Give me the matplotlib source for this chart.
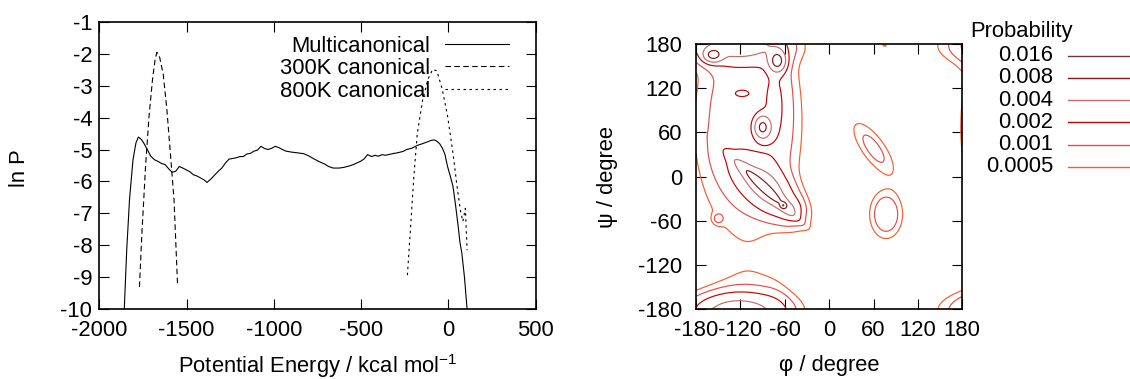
import numpy as np
import matplotlib
matplotlib.use('Agg')
import matplotlib.pyplot as plt
from matplotlib.lines import Line2D

plt.rcParams['font.family'] = ['Liberation Sans', 'DejaVu Sans']
plt.rcParams['mathtext.fontset'] = 'custom'
plt.rcParams['mathtext.rm'] = 'Liberation Sans'
plt.rcParams['axes.unicode_minus'] = False
FS = 15.8

# --- left panel: energy distributions ---
muca_e = [-1857, -1843, -1827, -1807, -1790, -1776, -1760, -1746, -1725, -1705, -1684,
          -1664, -1643, -1623, -1603, -1583, -1562, -1542, -1522, -1500, -1480, -1461,
          -1440, -1420, -1400, -1383, -1360, -1338, -1318, -1298, -1277, -1257, -1236,
          -1216, -1195, -1175, -1155, -1134, -1114, -1094, -1074, -1053, -1033, -1012,
          -992, -972, -951, -931, -900, -870, -829, -800, -768, -740, -710, -687, -660,
          -626, -600, -565, -540, -504, -484, -463, -440, -420, -402, -380, -360, -320,
          -290, -260, -239, -210, -178, -150, -120, -97, -80, -66, -50, -35, -20, -5,
          10, 26, 40, 56, 66, 77, 92, 107]
muca_lnp = [-10.0, -8.15, -6.57, -5.32, -4.79, -4.61, -4.68, -4.79, -5.00, -5.21, -5.32,
            -5.37, -5.44, -5.47, -5.60, -5.71, -5.68, -5.53, -5.58, -5.64, -5.70, -5.79,
            -5.83, -5.89, -5.95, -6.03, -5.92, -5.79, -5.68, -5.58, -5.42, -5.30, -5.28,
            -5.26, -5.22, -5.22, -5.14, -5.12, -5.05, -5.02, -4.90, -4.97, -5.00, -4.96,
            -4.90, -4.94, -5.00, -5.05, -5.08, -5.10, -5.13, -5.20, -5.30, -5.38, -5.45,
            -5.53, -5.58, -5.58, -5.56, -5.51, -5.46, -5.37, -5.30, -5.16, -5.22, -5.18,
            -5.21, -5.16, -5.18, -5.13, -5.10, -5.06, -5.00, -4.96, -4.87, -4.82, -4.76,
            -4.71, -4.70, -4.74, -4.82, -4.95, -5.15, -5.53, -5.82, -6.15, -6.70, -7.41,
            -7.90, -8.25, -9.00, -10.0]
c300_e = [-1770, -1756, -1735, -1715, -1695, -1680, -1670, -1654, -1634, -1613, -1593,
          -1572, -1552]
c300_lnp = [-9.30, -7.62, -5.53, -3.95, -2.80, -2.17, -1.96, -2.12, -2.64, -3.74, -5.11,
            -6.57, -9.19]
c800_e = [-235, -219, -198, -178, -147, -117, -90, -66, -35, -5, 26, 52, 70, 83, 97, 107]
c800_lnp = [-8.93, -7.62, -5.84, -4.48, -3.43, -2.80, -2.49, -2.54, -3.12, -3.95, -5.11,
            -6.26, -6.95, -7.25, -6.84, -8.15]
energy_names = ['Multicanonical', '300K canonical', '800K canonical']
energy_styles = ['-', (0, (5, 3)), (0, (2.2, 3.2))]

# --- right panel: Ramachandran basins (phi, psi, height, widths, tilt, sharpness) ---
basin_phi = [-110, -72, -85, -89, -62, -90, -125, -157, -70, -150, -118, 60, 77, 75, -50]
basin_psi = [71, 100, -15, -13.5, -39, 67, 178, 165, 157, -57, 113, 38, -51, 178, -45]
basin_amp = [0.0013, 0.0011, 0.0043, 0.0070, 0.0095, 0.0078, 0.0045, 0.0072, 0.0083,
             0.0010, 0.0011, 0.00133, 0.00195, 0.00055, 0.0015]
basin_sig_a = [61, 14, 36, 30, 2.5, 7, 42, 8, 7, 5, 9.5, 29, 13.5, 5, 10]
basin_sig_b = [130, 55, 17, 4.5, 2.5, 9.5, 16, 6, 9, 5, 4.5, 10.6, 20, 2.5, 10]
basin_tilt = [0, 0, -43, -43, 0, 0, 0, 0, 0, 0, 0, -54.4, 0, 0, 0]
basin_power = [4, 2, 2, 2, 2, 2, 2, 2, 2, 2, 2, 2, 2, 2, 2]

prob_levels = [0.0005, 0.001, 0.002, 0.004, 0.008, 0.016]
prob_labels = ['0.0005', '0.001', '0.002', '0.004', '0.008', '0.016']
prob_colors = ['#ff5a2a', '#f04848', '#c80000', '#c86a6a', '#8a1414', '#703838']
angle_ticks = [-180, -120, -60, 0, 60, 120, 180]


def ramachandran_density(phi, psi):
    p = np.zeros_like(phi)
    for ph0, ps0, a, sa, sb, tilt, pw in zip(basin_phi, basin_psi, basin_amp, basin_sig_a,
                                             basin_sig_b, basin_tilt, basin_power):
        t = np.deg2rad(tilt)
        for dx in (-360, 0, 360):
            for dy in (-360, 0, 360):
                x = phi - ph0 + dx
                y = psi - ps0 + dy
                u = x * np.cos(t) + y * np.sin(t)
                v = -x * np.sin(t) + y * np.cos(t)
                r2 = (u / sa) ** 2 + (v / sb) ** 2
                p += a * np.exp(-0.5 * r2 ** (pw / 2))
    return p


fig = plt.figure(figsize=(11.3, 3.79), dpi=100)
fig.patch.set_facecolor('white')

# left panel
ax1 = fig.add_axes([99.3 / 1130, 69.7 / 379, 436.4 / 1130, 287.6 / 379])
for xs, ys, ls in zip([muca_e, c300_e, c800_e], [muca_lnp, c300_lnp, c800_lnp],
                      energy_styles):
    ax1.plot(xs, ys, color='black', lw=0.8, linestyle=ls)
ax1.set_xlim(-2000, 500)
ax1.set_ylim(-10, -1)
ax1.set_xticks(range(-2000, 501, 500))
ax1.set_yticks(range(-10, 0))
ax1.tick_params(axis='both', direction='in', length=7, width=0.8, top=True, right=True,
                labelsize=FS)
ax1.tick_params(axis='y', pad=5)
ax1.tick_params(axis='x', pad=7.5)
ax1.set_xlabel('Potential Energy / kcal mol$^{-1}$', fontsize=FS, va='center')
ax1.xaxis.set_label_coords(0.5, (309.3 - 366) / 287.6)
ax1.set_ylabel('ln P', fontsize=FS, va='center', ha='center', rotation_mode='default')
ax1.yaxis.set_label_coords((19 - 99.3) / 436.4, 0.49)

for row, (name, ls) in enumerate(zip(energy_names, energy_styles)):
    yy = (309.3 - (44 + 22.3 * row)) / 287.6
    ax1.text(0.758, yy, name, transform=ax1.transAxes, ha='right', va='center_baseline',
             fontsize=FS)
    ax1.add_line(Line2D([0.792, 0.939], [yy, yy], transform=ax1.transAxes,
                        color='black', lw=0.8, linestyle=ls))

# right panel
ax2 = fig.add_axes([696 / 1130, 69.7 / 379, 266.3 / 1130, 265.3 / 379])
grid = np.linspace(-180, 180, 301)
PHI, PSI = np.meshgrid(grid, grid)
P = ramachandran_density(PHI, PSI)
ax2.contour(PHI, PSI, P, levels=prob_levels, colors=prob_colors, linewidths=0.85)
ax2.set_xlim(-180, 180)
ax2.set_ylim(-180, 180)
ax2.set_xticks(angle_ticks)
ax2.set_yticks(angle_ticks)
ax2.tick_params(axis='both', direction='in', length=7, width=0.8, top=True, right=True,
                labelsize=FS)
ax2.tick_params(axis='y', pad=10)
ax2.tick_params(axis='x', pad=7.5)
ax2.set_xlabel('\u03c6 / degree', fontsize=FS, va='center')
ax2.xaxis.set_label_coords(0.5, (309.3 - 366) / 265.3)
ax2.set_ylabel('\u03c8 / degree', fontsize=FS, va='center', ha='center',
               rotation_mode='default')
ax2.yaxis.set_label_coords((608 - 696) / 266.3, 0.5)

for ax in (ax1, ax2):
    for sp in ax.spines.values():
        sp.set_linewidth(1.2)

fig.text(970 / 1130, 1 - 31.7 / 379, 'Probability', ha='left', va='center', fontsize=FS)
for row, (lab, col) in enumerate(zip(prob_labels[::-1], prob_colors[::-1])):
    yy = 1 - (55.7 + 22.2 * row) / 379
    fig.text(1053.3 / 1130, yy, lab, ha='right', va='center', fontsize=FS)
    fig.add_artist(Line2D([1068 / 1130, 1.0], [yy, yy], transform=fig.transFigure,
                          color=col, lw=1.0))

fig.savefig('out.png', dpi=100, facecolor='white')
